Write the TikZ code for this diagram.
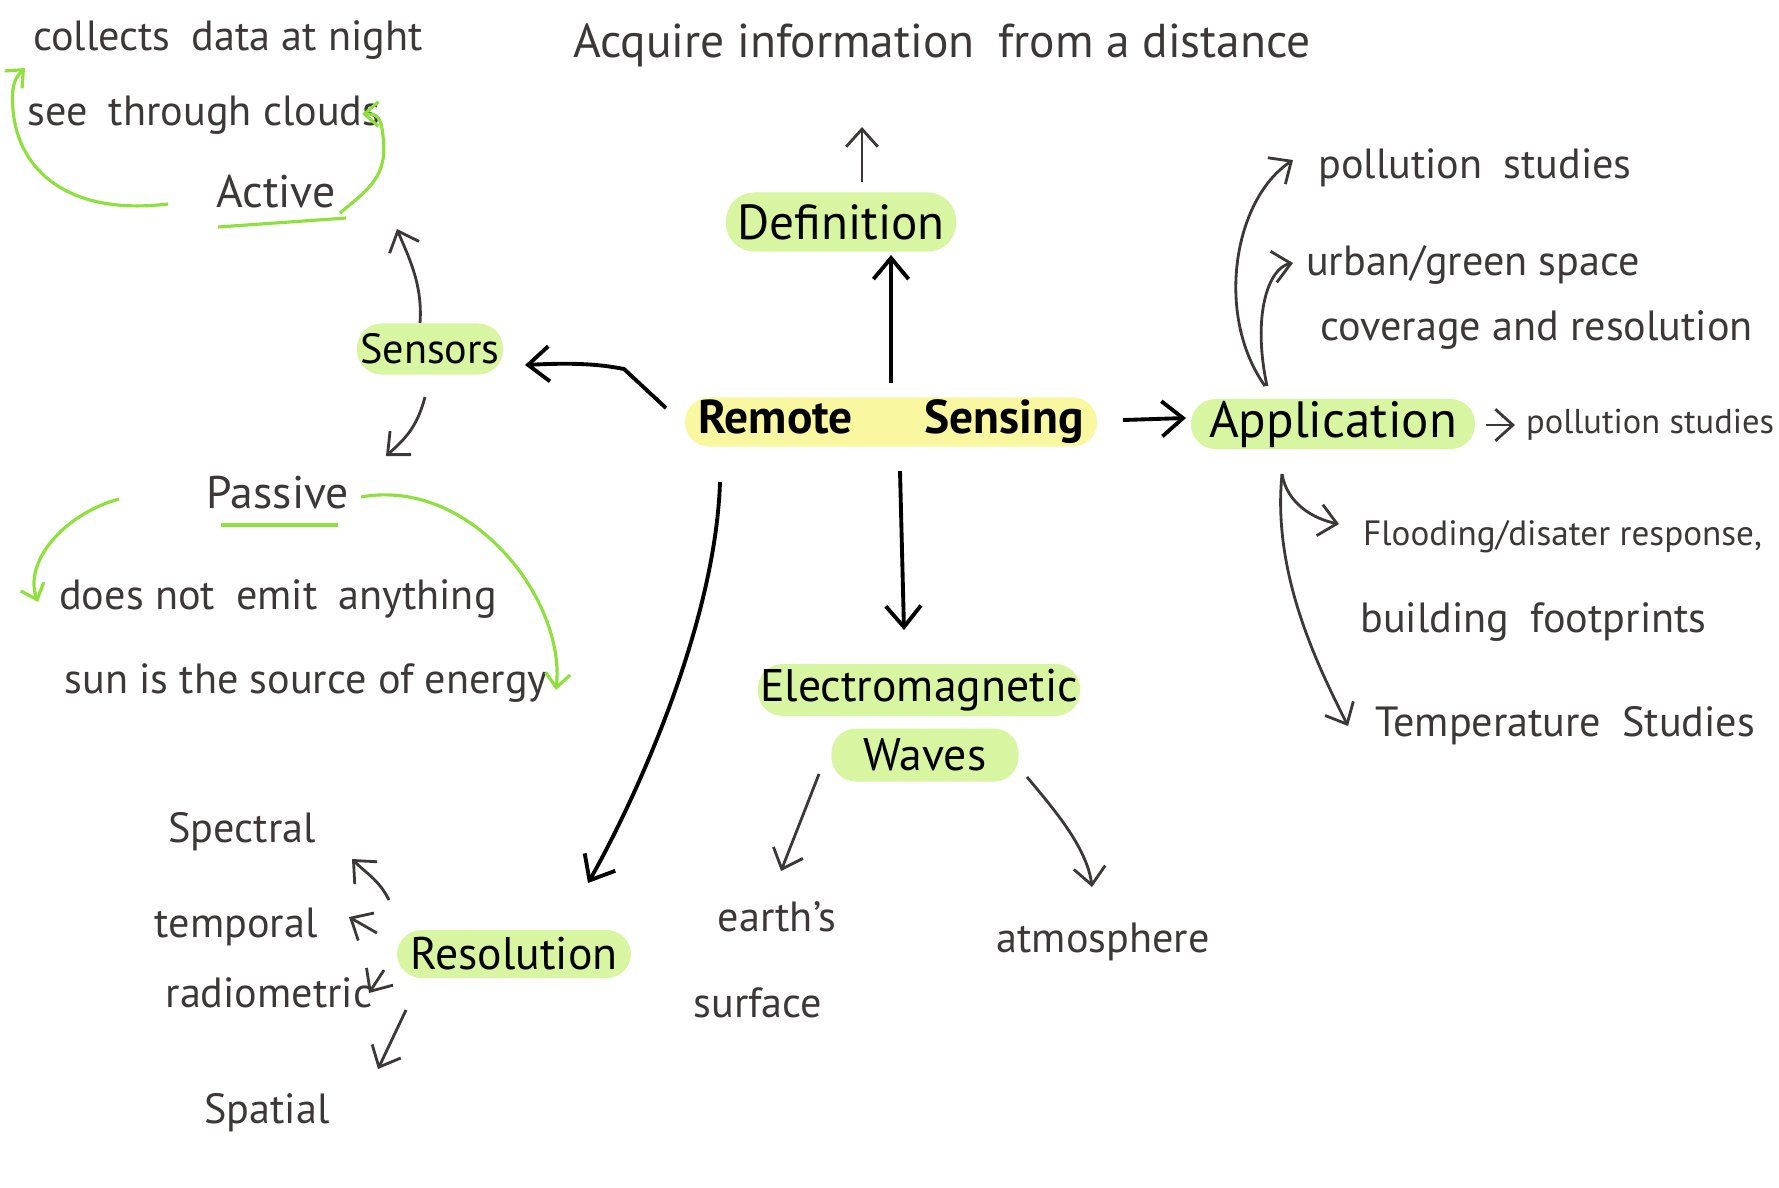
\documentclass[tikz,border=0pt]{standalone}
\usepackage{fontspec}
\setmainfont{PT Sans}
\usepackage{xcolor}
\usetikzlibrary{arrows.meta, positioning}

\definecolor{ink}{HTML}{3D3838}
\definecolor{leaf}{HTML}{D8F5A2}
\definecolor{lemon}{HTML}{F9F7A0}
\definecolor{lime}{HTML}{8EE03C}

\tikzset{
	note/.style={text=ink, inner sep=1pt, font=\fontsize{12}{14}\selectfont},
	topic/.style={fill=leaf, text=black, rounded corners=7pt, inner sep=0pt, font=\fontsize{14}{16}\selectfont},
	link/.style={-{Straight Barb[length=6pt,width=10pt]}, line width=1.1pt, black},
	thinlink/.style={-{Straight Barb[length=5pt,width=9pt]}, line width=0.8pt, ink},
	greenlink/.style={-{Straight Barb[length=4pt,width=7pt]}, line width=0.9pt, lime},
}

\begin{document}
\begin{tikzpicture}[x=0.01cm, y=-0.01cm]
				\useasboundingbox (0,0) rectangle (1779,1187);

				\node[topic, fill=lemon, minimum width=4.12cm, minimum height=0.49cm, font=\fontsize{13.5}{16}\selectfont\bfseries] (rs) at (891,422) {Remote\quad\enspace Sensing};
				\node[topic, minimum width=2.3cm, minimum height=0.59cm, rounded corners=8pt] (def) at (841,222) {Definition};
				\node[topic, minimum width=1.46cm, minimum height=0.51cm, font=\fontsize{12}{14}\selectfont] (sensors) at (430,349) {Sensors};
				\node[topic, minimum width=2.84cm, minimum height=0.5cm, font=\fontsize{14.5}{17}\selectfont] (app) at (1333,424) {Application};
				\node[topic, minimum width=2.34cm, minimum height=0.48cm, font=\fontsize{13}{15}\selectfont] (res) at (514,954) {Resolution};
				\node[topic, minimum width=3.22cm, minimum height=0.52cm, font=\fontsize{13}{15}\selectfont] (em) at (919,690) {Electromagnetic};
				\node[topic, minimum width=1.87cm, minimum height=0.53cm, font=\fontsize{13}{15}\selectfont] (waves) at (925,755) {Waves};

				\node[note, font=\fontsize{13.5}{16}\selectfont] (acq) at (942,45) {Acquire information\enspace from a distance};
				\node[note] (night) at (228,40) {collects\enspace data at night};
				\node[note] (clouds) at (204,115) {see\enspace through clouds};
				\node[note, font=\fontsize{13}{15}\selectfont] (active) at (276,192) {Active};
				\node[note, font=\fontsize{13}{15}\selectfont] (passive) at (278,493) {Passive};
				\node[note] (emit) at (278,599) {does not\enspace emit\enspace anything};
				\node[note] (source) at (306,683) {sun is the source of energy};

				\node[note, anchor=west] (poll1) at (1314,168) {pollution\enspace studies};
				\node[note, anchor=west] (urban) at (1302,265) {urban/green space};
				\node[note, anchor=west] (cover) at (1316,330) {coverage and resolution};
				\node[note, anchor=west, font=\fontsize{9.8}{12}\selectfont] (poll2) at (1522,425) {pollution studies};
				\node[note, anchor=west, font=\fontsize{10}{12}\selectfont] (flood) at (1359,537) {Flooding/disater response,};
				\node[note, anchor=west] (build) at (1356,622) {building\enspace footprints};
				\node[note, anchor=west] (temp) at (1371,726) {Temperature\enspace Studies};

				\node[note] (earth) at (777,917) {earth's};
				\node[note] (surface) at (758,1003) {surface};
				\node[note] (atmos) at (1103,942) {atmosphere};

				\node[note] (spectral) at (242,832) {Spectral};
				\node[note] (temporal) at (236,927) {temporal};
				\node[note] (radiometric) at (269,993) {radiometric};
				\node[note] (spatial) at (267,1113) {Spatial};

				\draw[link] ([shift={(0,-39)}]rs.center) -- ([shift={(50,33)}]def.center);
				\draw[thinlink] ([shift={(21,-40)}]def.center) -- ([shift={(-80,82)}]acq.center);
				\draw[link] ([shift={(-225,-14)}]rs.center) -- ++(-42,-39) .. controls +(-30,-6) and +(40,-2) .. ([shift={(95,16)}]sensors.center);
				\draw[link] ([shift={(232,-2)}]rs.center) -- ([shift={(-147,-6)}]app.center);
				\draw[link] ([shift={(9,49)}]rs.center) -- ([shift={(-15,-60)}]em.center);
				\draw[link] ([shift={(-171,60)}]rs.center) .. controls +(-5,150) and +(40,-70) .. ([shift={(74,-71)}]res.center);

				\draw[thinlink] ([shift={(-10,-26)}]sensors.center) .. controls +(3,-40) and +(10,25) .. ([shift={(121,37)}]active.center);
				\draw[thinlink] ([shift={(-5,48)}]sensors.center) .. controls +(-8,30) and +(20,-18) .. ([shift={(108,-37)}]passive.center);

				\draw[lime, line width=0.9pt] ([shift={(-58,35)}]active.center) -- ([shift={(70,26)}]active.center);
				\draw[lime, line width=0.9pt] ([shift={(-57,32)}]passive.center) -- ([shift={(60,32)}]passive.center);
				\draw[greenlink] ([shift={(-108,12)}]active.center) .. controls +(-100,12) and +(5,60) .. ++(-155,-94) .. controls +(-2,-25) and +(-10,10) .. ([shift={(-203,28)}]night.center);
				\draw[greenlink] ([shift={(64,21)}]active.center) .. controls +(30,-25) and +(5,40) .. ++(43,-77) .. controls +(-2,-20) and +(15,0) .. ([shift={(158,-1)}]clouds.center);
				\draw[greenlink] ([shift={(-159,6)}]passive.center) .. controls +(-55,15) and +(-15,-40) .. ([shift={(-240,3)}]emit.center);
				\draw[greenlink] ([shift={(83,4)}]passive.center) .. controls +(110,-20) and +(10,-90) .. ([shift={(250,7)}]source.center);

				\draw[thinlink] ([shift={(-68,-38)}]app.center) .. controls +(-50,-70) and +(-60,40) .. ([shift={(-21,-8)}]poll1.west);
				\draw[thinlink] ([shift={(-66,-38)}]app.center) .. controls +(-15,-70) and +(-25,5) .. ([shift={(-9,-2)}]urban.west);
				\draw[thinlink] ([shift={(153,1)}]app.center) -- ([shift={(-7,0)}]poll2.west);
				\draw[thinlink] ([shift={(-51,50)}]app.center) .. controls +(5,30) and +(-25,-5) .. ([shift={(-20,-13)}]flood.west);
				\draw[thinlink] ([shift={(-51,50)}]app.center) .. controls +(-10,100) and +(-30,-60) .. ([shift={(-23,0)}]temp.west);

				\draw[thinlink] ([shift={(-106,19)}]waves.center) -- ([shift={(4,-46)}]earth.center);
				\draw[thinlink] ([shift={(102,22)}]waves.center) .. controls +(25,30) and +(-5,-40) .. ([shift={(-11,-55)}]atmos.center);

				\draw[thinlink] ([shift={(-125,-54)}]res.center) .. controls +(-10,-20) and +(15,15) .. ([shift={(110,27)}]spectral.center);
				\draw[thinlink] ([shift={(-137,-21)}]res.center) -- ([shift={(113,-10)}]temporal.center);
				\draw[thinlink] ([shift={(-130,16)}]res.center) -- ([shift={(100,0)}]radiometric.center);
				\draw[thinlink] ([shift={(-108,56)}]res.center) -- ([shift={(111,-44)}]spatial.center);
			\end{tikzpicture}
\end{document}
